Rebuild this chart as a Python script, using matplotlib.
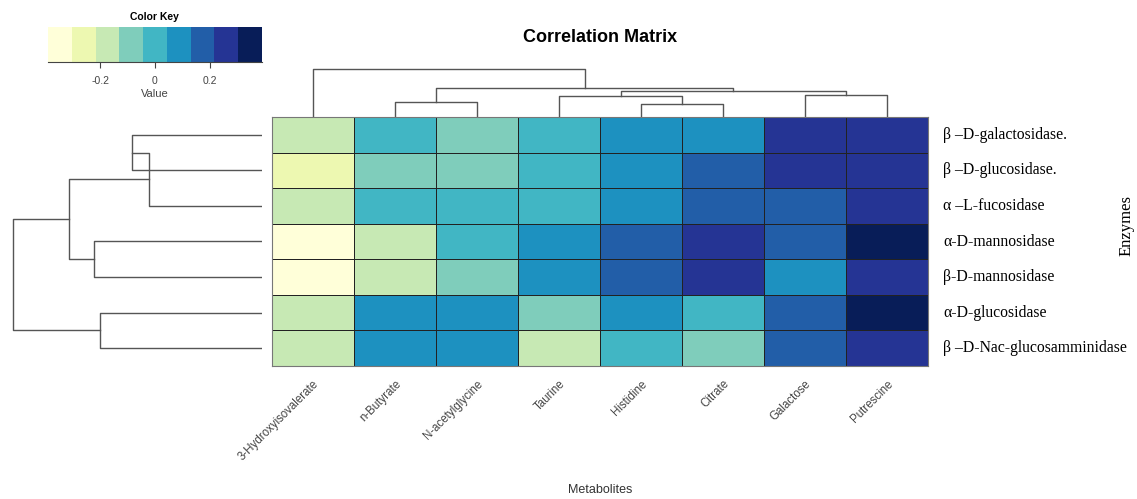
import numpy as np
import matplotlib
matplotlib.use("Agg")
import matplotlib.pyplot as plt
from matplotlib.colors import ListedColormap, BoundaryNorm

# correlation values (rows = enzymes, cols = metabolites), in dendrogram order
metabolites = ["3-Hydroxyisovalerate", "n-Butyrate", "N-acetylglycine", "Taurine",
               "Histidine", "Citrate", "Galactose", "Putrescine"]
enzymes = ["β –D-galactosidase.", "β –D-glucosidase.", "α –L-fucosidase",
           "α-D-mannosidase", "β-D-mannosidase", "α-D-glucosidase",
           "β –D-Nac-glucosamminidase"]
corr = np.array([
    [-0.17, 0.00, -0.09, 0.00, 0.09, 0.09, 0.26, 0.26],
    [-0.26, -0.09, -0.09, 0.00, 0.09, 0.17, 0.26, 0.26],
    [-0.17, 0.00, 0.00, 0.00, 0.09, 0.17, 0.17, 0.26],
    [-0.35, -0.17, 0.00, 0.09, 0.17, 0.26, 0.17, 0.35],
    [-0.35, -0.17, -0.09, 0.09, 0.17, 0.26, 0.09, 0.26],
    [-0.17, 0.09, 0.09, -0.09, 0.09, 0.00, 0.17, 0.35],
    [-0.17, 0.09, 0.09, -0.17, 0.00, -0.09, 0.17, 0.26],
])

# dendrogram merges: (left, right, height); ids >= n are earlier merges
col_merges = [(4, 5, 13), (1, 2, 15), (3, 8, 21.5), (6, 7, 22),
              (10, 11, 26), (9, 12, 29), (0, 13, 48)]
row_merges = [(0, 1, 130), (7, 2, 113), (3, 4, 168), (5, 6, 162),
              (8, 9, 193), (11, 10, 249)]

key_breaks = np.linspace(-0.39, 0.39, 10)
key_ticks = [-0.2, 0, 0.2]
palette = ["#ffffd9", "#edf8b1", "#c7e9b4", "#7fcdbb", "#41b6c4",
           "#1d91c0", "#225ea8", "#253494", "#081d58"]
cmap = ListedColormap(palette)
norm = BoundaryNorm(key_breaks, cmap.N)

W, H = 1137, 499


def box(x0, y0, x1, y1):
    # pixel box (top-left origin) -> figure rect
    return [x0 / W, 1 - y1 / H, (x1 - x0) / W, (y1 - y0) / H]


def draw_tree(ax, merges, n, orient):
    pos = {i: i + 0.5 for i in range(n)}
    hgt = {i: 0.0 for i in range(n)}
    for k, (a, b, h) in enumerate(merges):
        xa, xb = pos[a], pos[b]
        if orient == "top":
            ax.plot([xa, xa, xb, xb], [hgt[a], h, h, hgt[b]], color="#555555", lw=1)
        else:
            ax.plot([hgt[a], h, h, hgt[b]], [xa, xa, xb, xb], color="#555555", lw=1)
        pos[n + k] = (xa + xb) / 2
        hgt[n + k] = h


fig = plt.figure(figsize=(W / 100, H / 100), dpi=100)

# heatmap
hx0, hy0, hx1, hy1 = 272, 117, 928, 366
ax = fig.add_axes(box(hx0, hy0, hx1, hy1))
ax.pcolormesh(corr, cmap=cmap, norm=norm, edgecolors="#222222", linewidth=0.5)
ax.set_xlim(0, len(metabolites))
ax.set_ylim(len(enzymes), 0)
ax.set_xticks([])
ax.set_yticks([])
for s in ax.spines.values():
    s.set_color("#777777")

cw = (hx1 - hx0) / len(metabolites)
rh = (hy1 - hy0) / len(enzymes)
for i, name in enumerate(metabolites):
    x = hx0 + (i + 0.5) * cw
    fig.text(x / W, 1 - 378 / H, name, rotation=45, ha="right", va="top",
             rotation_mode="anchor", fontsize=8.3, color="#444444",
             family="Liberation Sans")
for j, name in enumerate(enzymes):
    y = hy0 + (j + 0.5) * rh
    fig.text(943 / W, 1 - y / H, name, ha="left", va="center", fontsize=11.3,
             family="Liberation Serif")

fig.text(1127 / W, 1 - 226 / H, "Enzymes", rotation=90, ha="center", va="center",
         fontsize=12, family="Liberation Serif")
fig.text(600 / W, 1 - 490 / H, "Metabolites", ha="center", va="center",
         fontsize=9, color="#333333", family="Liberation Sans")
fig.text(600 / W, 1 - 38 / H, "Correlation Matrix", ha="center", va="center",
         fontsize=13, fontweight="bold", family="Liberation Sans")

# column dendrogram
axc = fig.add_axes(box(hx0, 62, hx1, hy0))
draw_tree(axc, col_merges, len(metabolites), "top")
axc.set_xlim(0, len(metabolites))
axc.set_ylim(0, 55)
axc.axis("off")

# row dendrogram
axr = fig.add_axes(box(0, hy0, 262, hy1))
draw_tree(axr, row_merges, len(enzymes), "left")
axr.set_xlim(262, 0)
axr.set_ylim(len(enzymes), 0)
axr.axis("off")

# color key
axk = fig.add_axes(box(48, 27, 262, 62))
mids = (key_breaks[:-1] + key_breaks[1:]) / 2
axk.pcolormesh(key_breaks, [0, 1], mids[None, :], cmap=cmap, norm=norm)
axk.set_xlim(key_breaks[0], key_breaks[-1])
axk.set_yticks([])
axk.set_xticks(key_ticks)
axk.set_xticklabels(["-0.2", "0", "0.2"], fontsize=7.5, color="#444444",
                    family="Liberation Sans")
axk.tick_params(axis="x", length=4, color="#444444", pad=6)
for k in ["top", "left", "right"]:
    axk.spines[k].set_visible(False)
axk.spines["bottom"].set_color("#444444")
axk.set_xlabel("Value", fontsize=8, color="#444444", family="Liberation Sans",
               labelpad=2)
fig.text(154 / W, 1 - 17 / H, "Color Key", ha="center", va="center", fontsize=7.5,
         fontweight="bold", family="Liberation Sans")

fig.savefig("out.png", dpi=100)
